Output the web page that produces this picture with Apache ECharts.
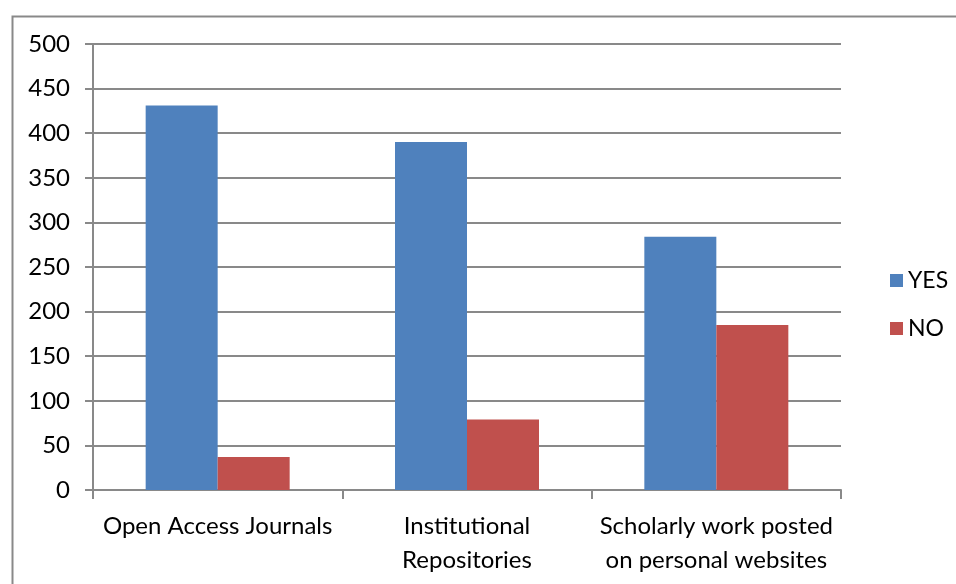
<!DOCTYPE html>
<html>
<head>
<meta charset="utf-8">
<script src="https://cdn.jsdelivr.net/npm/echarts@6/dist/echarts.min.js"></script>
<style>html,body{margin:0;padding:0;background:#fff}#c{width:956px;height:584px}</style>
</head>
<body>
<div id="c"></div>
<script>
const categories = ['Open Access Journals', 'Institutional\nRepositories', 'Scholarly work posted\non personal websites'];
const yesValues = [431, 390, 284];
const noValues = [37, 79, 185];
const seriesNames = ['YES', 'NO'];

const FONT = 'Lato';
const chart = echarts.init(document.getElementById('c'));
chart.setOption({
  animation: false,
  backgroundColor: '#fff',
  graphic: [{
    type: 'rect', left: 10, top: 14, silent: true,
    shape: { width: 1200, height: 1200 },
    style: { fill: 'none', stroke: '#898989', lineWidth: 2 }
  }],
  grid: { left: 93, right: 115, top: 44, bottom: 94 },
  legend: {
    orient: 'vertical', left: 885, top: 264, itemWidth: 13, itemHeight: 13, itemGap: 25,
    icon: 'rect',
    textStyle: { fontFamily: FONT, fontSize: 23, color: '#000' },
    data: seriesNames
  },
  xAxis: {
    type: 'category', data: categories,
    axisLine: { lineStyle: { color: '#898989', width: 2 } },
    axisTick: { show: true, length: 9, lineStyle: { color: '#898989', width: 2 } },
    axisLabel: { fontFamily: FONT, fontSize: 24, color: '#000', margin: 19, lineHeight: 34, interval: 0 }
  },
  yAxis: {
    type: 'value', min: 0, max: 500, interval: 50,
    axisLine: { show: true, lineStyle: { color: '#898989', width: 2 } },
    axisTick: { show: true, length: 8, lineStyle: { color: '#898989', width: 2 } },
    splitLine: { lineStyle: { color: '#898989', width: 2 } },
    axisLabel: { fontFamily: FONT, fontSize: 24, color: '#000', margin: 23 }
  },
  series: [
    { name: seriesNames[0], type: 'bar', data: yesValues, barWidth: 72, barGap: '0%', itemStyle: { color: '#4F81BD' } },
    { name: seriesNames[1], type: 'bar', data: noValues, barWidth: 72, barGap: '0%', itemStyle: { color: '#C0504D' } }
  ]
});
</script>
</body>
</html>
